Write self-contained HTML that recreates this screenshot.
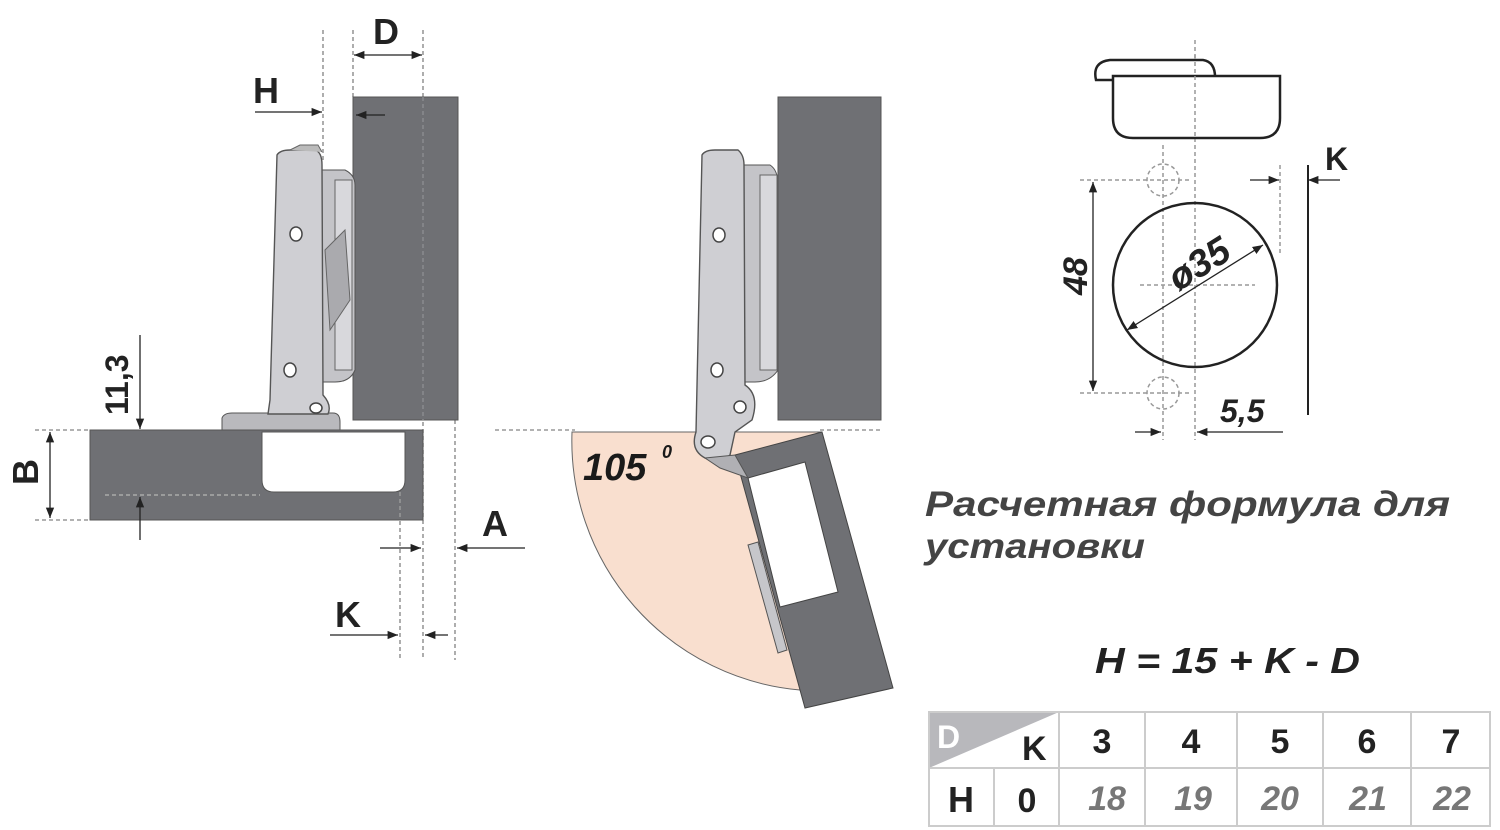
<!DOCTYPE html>
<html><head><meta charset="utf-8"><style>
html,body{margin:0;padding:0;background:#fff;}
svg{display:block;}
text{font-family:"Liberation Sans",sans-serif;font-weight:bold;}
</style></head><body>
<svg width="1500" height="830" viewBox="0 0 1500 830" xmlns="http://www.w3.org/2000/svg">
<defs>
<marker id="ar" viewBox="0 0 10 10" refX="10" refY="5" markerWidth="8" markerHeight="8" orient="auto-start-reverse"><path d="M0,1 L10,5 L0,9 z" fill="#222"/></marker>
</defs>
<g stroke="#999" stroke-width="1.6" stroke-dasharray="4,3" fill="none">
<line x1="323" y1="30" x2="323" y2="160"/>
<line x1="353" y1="30" x2="353" y2="97"/>
<line x1="423" y1="30" x2="423" y2="660"/>
<line x1="400" y1="430" x2="400" y2="660"/>
<line x1="455" y1="420" x2="455" y2="660"/>
<line x1="35" y1="430" x2="90" y2="430"/>
<line x1="35" y1="520" x2="90" y2="520"/>
<line x1="495" y1="430" x2="575" y2="430"/>
<line x1="820" y1="430" x2="880" y2="430"/>
</g>
<rect x="353" y="97" width="105" height="323" fill="#6f7074" stroke="#555" stroke-width="1"/>
<line x1="423" y1="97" x2="423" y2="420" stroke="#8a8b8f" stroke-width="1.5" stroke-dasharray="4,3"/>
<path d="M90 430 H423 V520 H90 Z" fill="#6f7074" stroke="#555"/>
<path d="M262 432 H405 V480 Q405 492 393 492 H274 Q262 492 262 480 Z" fill="#fff" stroke="#555"/>
<line x1="105" y1="495" x2="260" y2="495" stroke="#aaa" stroke-width="1.5" stroke-dasharray="4,3"/>
<line x1="400" y1="492" x2="400" y2="520" stroke="#999" stroke-width="1.5" stroke-dasharray="4,3"/>
<path d="M222 418 Q224 413 232 413 H333 Q340 413 340 422 V430 H222 Z" fill="#b9b9bd" stroke="#555"/>
<path d="M322 170 H345 Q355 175 355 185 V370 Q350 382 335 382 L322 382 Z" fill="#c4c4c8" stroke="#555"/>
<path d="M335 180 H352 V370 H335 Z" fill="#d8d8dc" stroke="#666"/>
<path d="M325 250 L345 230 L350 300 L330 330 Z" fill="#aaaaae" stroke="#666"/>
<path d="M277 155 Q280 150 290 150 H315 Q322 152 322 165 L323 395 Q332 405 328 414 H268 L270 400 Z" fill="#cfcfd3" stroke="#555" stroke-width="1.4"/>
<path d="M290 150 L300 145 H318 L322 152" fill="#bbb" stroke="#666"/>
<ellipse cx="296" cy="234" rx="6" ry="7" fill="#fff" stroke="#444" stroke-width="1.5"/>
<ellipse cx="290" cy="370" rx="6" ry="7" fill="#fff" stroke="#444" stroke-width="1.5"/>
<ellipse cx="316" cy="408" rx="6" ry="5" fill="#fff" stroke="#444" stroke-width="1.5"/>
<g stroke="#222" stroke-width="1.3" fill="none">
<line x1="255" y1="112" x2="322" y2="112" marker-end="url(#ar)"/>
<line x1="385" y1="115" x2="356" y2="115" marker-end="url(#ar)"/>
<line x1="354" y1="55" x2="422" y2="55" marker-start="url(#ar)" marker-end="url(#ar)"/>
<line x1="140" y1="335" x2="140" y2="429" marker-end="url(#ar)"/>
<line x1="140" y1="540" x2="140" y2="497" marker-end="url(#ar)"/>
<line x1="50" y1="432" x2="50" y2="518" marker-start="url(#ar)" marker-end="url(#ar)"/>
<line x1="380" y1="548" x2="421" y2="548" marker-end="url(#ar)"/>
<line x1="525" y1="548" x2="457" y2="548" marker-end="url(#ar)"/>
<line x1="330" y1="635" x2="398" y2="635" marker-end="url(#ar)"/>
<line x1="448" y1="635" x2="425" y2="635" marker-end="url(#ar)"/>
</g>
<text x="253" y="103" font-size="36" fill="#222">H</text>
<text x="373" y="44" font-size="36" fill="#222">D</text>
<text x="482" y="536" font-size="36" fill="#222">A</text>
<text x="335" y="627" font-size="36" fill="#222">K</text>
<text transform="translate(38,485) rotate(-90)" font-size="36" fill="#222">B</text>
<text transform="translate(128,415) rotate(-90)" font-size="32" fill="#222">11,3</text>
<path d="M572 432 H822 L800 690 A250 250 0 0 1 572 432 Z" fill="#f9dfcf" stroke="#666" stroke-width="1"/>
<rect x="778" y="97" width="103" height="323" fill="#6f7074" stroke="#555"/>
<path d="M735 455 L822 432 L893 688 L805 708 Z" fill="#6f7074" stroke="#444"/>
<path d="M748 478 L805 462 L838 592 L780 607 Z" fill="#fff" stroke="#444"/>
<path d="M748 545 L758 542 L787 650 L778 653 Z" fill="#c6c6ca" stroke="#555"/>
<path d="M740 165 H770 Q778 170 778 185 V370 Q770 382 755 382 H740 Z" fill="#c4c4c8" stroke="#555"/>
<path d="M760 175 H777 V370 H760 Z" fill="#d8d8dc" stroke="#666"/>
<path d="M702 155 Q705 150 715 150 H738 Q744 155 744 165 L745 385 Q760 395 752 420 L735 432 L730 455 Q720 465 705 458 Q690 450 696 432 Z" fill="#cfcfd3" stroke="#555" stroke-width="1.4"/>
<path d="M705 458 L735 455 L748 478 L720 468 Z" fill="#b0b0b4" stroke="#555"/>
<ellipse cx="719" cy="235" rx="6" ry="7" fill="#fff" stroke="#444" stroke-width="1.5"/>
<ellipse cx="717" cy="370" rx="6" ry="7" fill="#fff" stroke="#444" stroke-width="1.5"/>
<ellipse cx="740" cy="407" rx="6" ry="6" fill="#fff" stroke="#444" stroke-width="1.5"/>
<ellipse cx="708" cy="442" rx="7" ry="6" fill="#fff" stroke="#444" stroke-width="1.5"/>
<text x="583" y="480" font-size="38" font-style="italic" fill="#1a1a1a">105</text>
<text x="662" y="458" font-size="18" font-style="italic" fill="#1a1a1a">0</text>
<g stroke="#999" stroke-width="1.5" stroke-dasharray="4,3" fill="none">
<line x1="1195" y1="40" x2="1195" y2="440"/>
<line x1="1163" y1="145" x2="1163" y2="440"/>
<line x1="1080" y1="180" x2="1190" y2="180"/>
<line x1="1080" y1="393" x2="1190" y2="393"/>
<line x1="1140" y1="285" x2="1255" y2="285"/>
<line x1="1280" y1="165" x2="1280" y2="255"/>
<circle cx="1163" cy="180" r="16"/>
<circle cx="1163" cy="393" r="16"/>
</g>
<path d="M1096 80 Q1092 62 1110 60 H1203 Q1216 62 1215 80 Z" fill="#fff" stroke="#222" stroke-width="2.5"/>
<path d="M1113 76 H1280 V118 Q1280 138 1260 138 H1133 Q1113 138 1113 118 Z" fill="#fff" stroke="#222" stroke-width="2.5"/>
<line x1="1195" y1="55" x2="1195" y2="140" stroke="#999" stroke-width="1.5" stroke-dasharray="4,3"/>
<circle cx="1195" cy="285" r="82" fill="none" stroke="#222" stroke-width="2.5"/>
<g stroke="#222" stroke-width="1.3" fill="none">
<line x1="1127" y1="330" x2="1263" y2="245" marker-start="url(#ar)" marker-end="url(#ar)"/>
<line x1="1093" y1="182" x2="1093" y2="391" marker-start="url(#ar)" marker-end="url(#ar)"/>
<line x1="1250" y1="180" x2="1279" y2="180" marker-end="url(#ar)"/>
<line x1="1340" y1="180" x2="1308" y2="180" marker-end="url(#ar)"/>
<line x1="1135" y1="432" x2="1161" y2="432" marker-end="url(#ar)"/>
<line x1="1283" y1="432" x2="1197" y2="432" marker-end="url(#ar)"/>
</g>
<line x1="1308" y1="165" x2="1308" y2="415" stroke="#222" stroke-width="2"/>
<text transform="translate(1178,292) rotate(-32)" font-size="38" font-style="italic" fill="#222">ø35</text>
<text transform="translate(1087,295) rotate(-90)" font-size="34" font-style="italic" fill="#222">48</text>
<text x="1325" y="170" font-size="32" fill="#222">K</text>
<text x="1220" y="422" font-size="32" font-style="italic" fill="#222">5,5</text>
<text x="925" y="516" font-size="35" font-style="italic" fill="#444" textLength="525" lengthAdjust="spacingAndGlyphs">Расчетная формула для</text>
<text x="925" y="558" font-size="35" font-style="italic" fill="#444" textLength="220" lengthAdjust="spacingAndGlyphs">установки</text>
<text x="1095" y="673" font-size="36" font-style="italic" fill="#222" textLength="265" lengthAdjust="spacingAndGlyphs">H = 15 + K - D</text>
<path d="M929 712 H1059 L929 768 Z" fill="#b8b8bc"/>
<g stroke="#ccc" stroke-width="2" fill="none">
<rect x="929" y="712" width="561" height="114"/>
<line x1="929" y1="768" x2="1490" y2="768"/>
<line x1="994" y1="768" x2="994" y2="826"/>
<line x1="1059" y1="712" x2="1059" y2="826"/>
<line x1="1145" y1="712" x2="1145" y2="826"/>
<line x1="1237" y1="712" x2="1237" y2="826"/>
<line x1="1323" y1="712" x2="1323" y2="826"/>
<line x1="1411" y1="712" x2="1411" y2="826"/>
</g>
<text x="937" y="748" font-size="32" fill="#fff">D</text>
<text x="1022" y="760" font-size="34" fill="#222">K</text>
<g font-size="34" fill="#222" text-anchor="middle">
<text x="1102" y="753">3</text><text x="1191" y="753">4</text><text x="1280" y="753">5</text><text x="1367" y="753">6</text><text x="1451" y="753">7</text>
<text x="961" y="812" font-size="36">H</text><text x="1027" y="812">0</text>
</g>
<g font-size="34" fill="#777" font-style="italic" text-anchor="middle">
<text x="1107" y="810">18</text><text x="1193" y="810">19</text><text x="1280" y="810">20</text><text x="1368" y="810">21</text><text x="1452" y="810">22</text>
</g>
</svg>
</body></html>
